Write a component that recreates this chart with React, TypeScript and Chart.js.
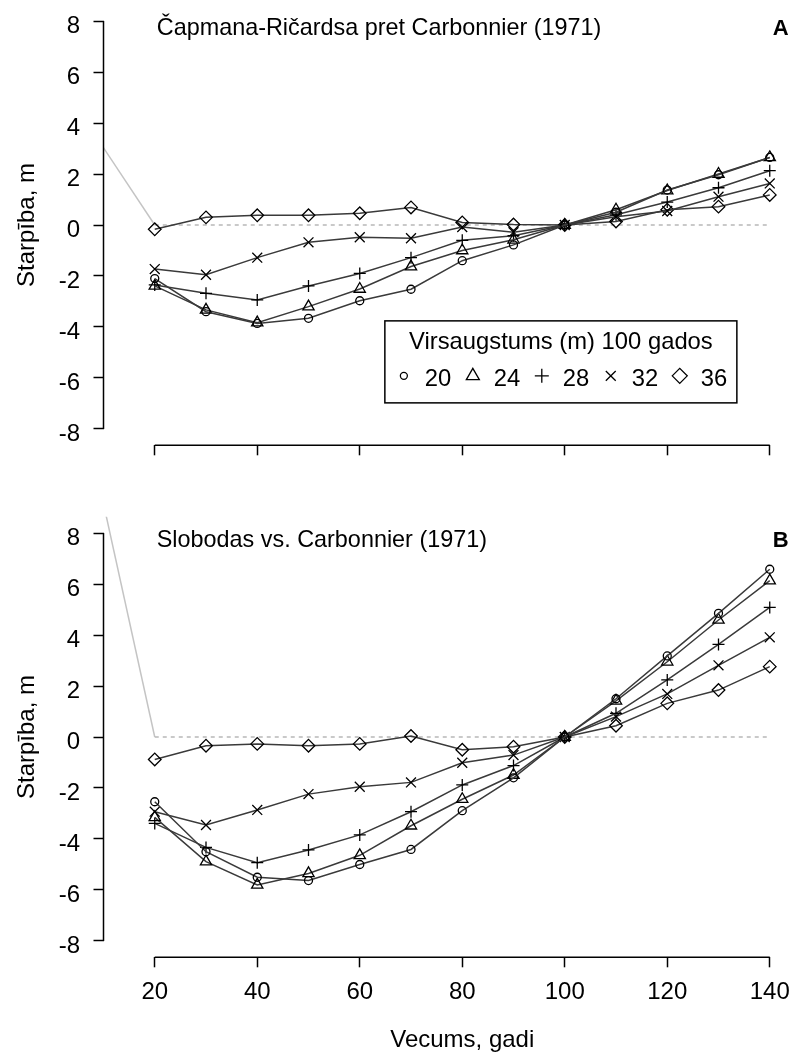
import React, { useEffect, useRef } from "react";
import { Chart, registerables } from "chart.js";
import { drawPoint } from "chart.js/helpers";

Chart.register(...registerables);

const FONT = '"Liberation Sans", Arial, Helvetica, sans-serif';
Chart.defaults.font.family = FONT;
Chart.defaults.color = "#000";

// Stand age, years
const ages = [20, 30, 40, 50, 60, 70, 80, 90, 100, 110, 120, 130, 140];
const xTicks = [20, 40, 60, 80, 100, 120, 140];
const yTicks = [-8, -6, -4, -2, 0, 2, 4, 6, 8];

// Site index classes (dominant height at age 100)
const siteIndexLabels = ["20", "24", "28", "32", "36"];
const markerStyles = ["circle", "triangle", "cross", "crossRot", "rectRot"];
const markerRadii = [4, 6.5, 6, 7, 6.3];
const legendRadii = [3.5, 7.5, 7, 7, 7.5];

// Panel A: Chapman-Richards minus Carbonnier (1971), m
const chapman20 = [-2.1, -3.4, -3.86, -3.66, -2.97, -2.52, -1.4, -0.78, 0, 0.5, 1.37, 1.97, 2.65];
const chapman24 = [-2.39, -3.33, -3.83, -3.2, -2.51, -1.63, -1.0, -0.58, 0, 0.6, 1.35, 2.0, 2.65];
const chapman28 = [-2.35, -2.68, -2.94, -2.39, -1.9, -1.28, -0.6, -0.42, 0, 0.4, 0.9, 1.46, 2.13];
const chapman32 = [-1.73, -1.95, -1.28, -0.68, -0.48, -0.52, -0.08, -0.28, 0, 0.32, 0.55, 1.11, 1.63];
const chapman36 = [-0.17, 0.3, 0.38, 0.38, 0.46, 0.69, 0.1, 0.02, 0, 0.14, 0.6, 0.72, 1.18];

// Panel B: Sloboda minus Carbonnier (1971), m
const sloboda20 = [-2.54, -4.5, -5.5, -5.63, -5.0, -4.41, -2.89, -1.6, 0, 1.5, 3.18, 4.85, 6.58];
const sloboda24 = [-3.15, -4.89, -5.8, -5.35, -4.64, -3.48, -2.44, -1.49, 0, 1.42, 2.95, 4.59, 6.13];
const sloboda28 = [-3.39, -4.33, -4.93, -4.43, -3.84, -2.93, -1.88, -1.12, 0, 0.93, 2.24, 3.63, 5.08];
const sloboda32 = [-2.93, -3.45, -2.86, -2.24, -1.95, -1.78, -1.01, -0.71, 0, 0.8, 1.69, 2.81, 3.91];
const sloboda36 = [-0.88, -0.34, -0.27, -0.34, -0.27, 0.04, -0.5, -0.38, 0, 0.44, 1.32, 1.84, 2.76];

// Zero reference and the grey lead-in segment ending at (20, 0)
const zeroLine = [{ x: 20, y: 0 }, { x: 140, y: 0 }];
const leadLineA = [{ x: 0, y: 6.06 }, { x: 20, y: 0 }];
const leadLineB = [{ x: 0, y: 18.3 }, { x: 20, y: 0 }];

const titleA = "Čapmana-Ričardsa pret Carbonnier (1971)";
const titleB = "Slobodas vs. Carbonnier (1971)";
const legendTitle = "Virsaugstums (m) 100 gados";
const xTitle = "Vecums, gadi";
const yTitle = "Starpība, m";

// R-style axis lines that span only the first and last tick
const axisLines = {
  id: "axisLines",
  afterDraw(chart: any) {
    const { ctx, chartArea, scales } = chart;
    const x = scales.x;
    const y = scales.y;
    ctx.save();
    ctx.strokeStyle = "#000";
    ctx.lineWidth = 1.5;
    ctx.beginPath();
    ctx.moveTo(chartArea.left, y.getPixelForValue(yTicks[yTicks.length - 1]));
    ctx.lineTo(chartArea.left, y.getPixelForValue(yTicks[0]));
    ctx.moveTo(x.getPixelForValue(xTicks[0]), chartArea.bottom);
    ctx.lineTo(x.getPixelForValue(xTicks[xTicks.length - 1]), chartArea.bottom);
    ctx.stroke();
    ctx.restore();
  },
};

// Panel heading and panel letter
const panelText = {
  id: "panelText",
  afterDraw(chart: any, _args: any, opts: any) {
    if (!opts || !opts.title) return;
    const { ctx, scales } = chart;
    const x = scales.x;
    const y = scales.y;
    const ty = y.getPixelForValue(8) + 8;
    ctx.save();
    ctx.fillStyle = "#000";
    ctx.textBaseline = "middle";
    ctx.textAlign = "left";
    ctx.font = `23.4px ${FONT}`;
    ctx.fillText(opts.title, x.getPixelForValue(20) + 2, ty);
    ctx.textAlign = "center";
    ctx.font = `bold 22px ${FONT}`;
    ctx.fillText(opts.letter, x.getPixelForValue(140) + 11, ty);
    ctx.restore();
  },
};

// Boxed horizontal legend with a title line
const boxLegend = {
  id: "boxLegend",
  afterDraw(chart: any, _args: any, opts: any) {
    if (!opts || !opts.display) return;
    const { ctx, scales } = chart;
    const left = scales.x.getPixelForValue(opts.x);
    const top = scales.y.getPixelForValue(opts.y);
    const w = 352;
    const h = 82;
    ctx.save();
    ctx.strokeStyle = "#000";
    ctx.lineWidth = 1.5;
    ctx.strokeRect(left, top, w, h);
    ctx.fillStyle = "#000";
    ctx.font = `23.8px ${FONT}`;
    ctx.textBaseline = "middle";
    ctx.textAlign = "center";
    ctx.fillText(opts.title, left + w / 2, top + 22);
    ctx.textAlign = "left";
    let cx = left + 19;
    chart.data.datasets.forEach((ds: any) => {
      if (!ds.legendRadius) return;
      ctx.save();
      ctx.strokeStyle = "#000";
      ctx.fillStyle = "rgba(0,0,0,0)";
      ctx.lineWidth = 1.3;
      drawPoint(ctx, { pointStyle: ds.pointStyle, radius: ds.legendRadius, rotation: 0, borderWidth: 1.3 } as any, cx, top + 55);
      ctx.restore();
      const tx = cx + 21;
      ctx.fillText(ds.label, tx, top + 59);
      cx = tx + ctx.measureText(ds.label).width + 21.5;
    });
    ctx.restore();
  },
};

function buildDatasets(series: number[][], lead: { x: number; y: number }[]) {
  const main = series.map((vals, i) => ({
    label: siteIndexLabels[i],
    data: ages.map((a, j) => ({ x: a, y: vals[j] })),
    borderColor: "#3a3a3a",
    borderWidth: 1.5,
    pointStyle: markerStyles[i],
    pointRadius: markerRadii[i],
    pointBorderColor: "#000",
    pointBackgroundColor: "rgba(0,0,0,0)",
    pointBorderWidth: 1.3,
    legendRadius: legendRadii[i],
    tension: 0,
    fill: false,
  }));
  return [
    ...main,
    {
      label: "zero",
      data: zeroLine,
      borderColor: "#b8b8b8",
      borderDash: [4, 4],
      borderWidth: 1.5,
      pointRadius: 0,
      fill: false,
    },
    {
      label: "lead",
      data: lead,
      borderColor: "#c4c4c4",
      borderWidth: 1.5,
      pointRadius: 0,
      fill: false,
    },
  ];
}

function buildConfig(p: {
  series: number[][];
  lead: { x: number; y: number }[];
  title: string;
  letter: string;
  padTop: number;
  xHeight: number;
  showX: boolean;
  legend: boolean;
}): any {
  return {
    type: "line",
    data: { datasets: buildDatasets(p.series, p.lead) },
    plugins: [axisLines, panelText, boxLegend],
    options: {
      animation: false,
      responsive: false,
      devicePixelRatio: 1,
      events: [],
      layout: { padding: { left: 0, right: 9, top: p.padTop, bottom: 0 } },
      plugins: {
        legend: { display: false },
        tooltip: { enabled: false },
        panelText: { title: p.title, letter: p.letter },
        boxLegend: { display: p.legend, x: 64.9, y: -3.76, title: legendTitle },
      },
      scales: {
        x: {
          type: "linear",
          min: 10,
          max: 150,
          afterBuildTicks: (s: any) => {
            s.ticks = xTicks.map((v) => ({ value: v }));
          },
          afterFit: (s: any) => {
            s.height = p.xHeight;
          },
          border: { display: false },
          grid: {
            display: true,
            drawOnChartArea: false,
            drawTicks: true,
            tickLength: 10,
            tickColor: "#000",
            tickWidth: 1.5,
          },
          ticks: {
            display: p.showX,
            autoSkip: false,
            maxRotation: 0,
            padding: 11,
            color: "#000",
            font: { size: 24 },
          },
          title: {
            display: p.showX,
            text: xTitle,
            color: "#000",
            font: { size: 24 },
            padding: { top: 0, bottom: 9.6 },
          },
        },
        y: {
          type: "linear",
          min: -8.64,
          max: 8.64,
          afterBuildTicks: (s: any) => {
            s.ticks = yTicks.map((v) => ({ value: v }));
          },
          afterFit: (s: any) => {
            s.width = 103.5;
          },
          border: { display: false },
          grid: {
            display: true,
            drawOnChartArea: false,
            drawTicks: true,
            tickLength: 10,
            tickColor: "#000",
            tickWidth: 1.5,
          },
          ticks: {
            autoSkip: false,
            padding: 13.5,
            color: "#000",
            font: { size: 24, lineHeight: 0.45 },
            callback: (v: any) => ["", String(v)],
          },
          title: {
            display: true,
            text: yTitle,
            color: "#000",
            font: { size: 24 },
            padding: { top: 12.6, bottom: 0 },
          },
        },
      },
    },
  };
}

export default function App() {
  const refA = useRef<HTMLCanvasElement>(null);
  const refB = useRef<HTMLCanvasElement>(null);

  useEffect(() => {
    const chartA = new Chart(
      refA.current as HTMLCanvasElement,
      buildConfig({
        series: [chapman20, chapman24, chapman28, chapman32, chapman36],
        lead: leadLineA,
        title: titleA,
        letter: "A",
        padTop: 44.7,
        xHeight: 24.7,
        showX: false,
        legend: true,
      })
    );
    const chartB = new Chart(
      refB.current as HTMLCanvasElement,
      buildConfig({
        series: [sloboda20, sloboda24, sloboda28, sloboda32, sloboda36],
        lead: leadLineB,
        title: titleB,
        letter: "B",
        padTop: 46.7,
        xHeight: 106.7,
        showX: true,
        legend: false,
      })
    );
    return () => {
      chartA.destroy();
      chartB.destroy();
    };
  }, []);

  return (
    <div
      style={{
        position: "absolute",
        left: 0,
        top: 0,
        width: 795,
        height: 1064,
        overflow: "hidden",
        background: "#fff",
      }}
    >
      <canvas
        ref={refA}
        width={830}
        height={510}
        style={{ display: "block", width: 830, height: 510, marginTop: -40 }}
      />
      <canvas ref={refB} width={830} height={594} style={{ display: "block", width: 830, height: 594 }} />
    </div>
  );
}
